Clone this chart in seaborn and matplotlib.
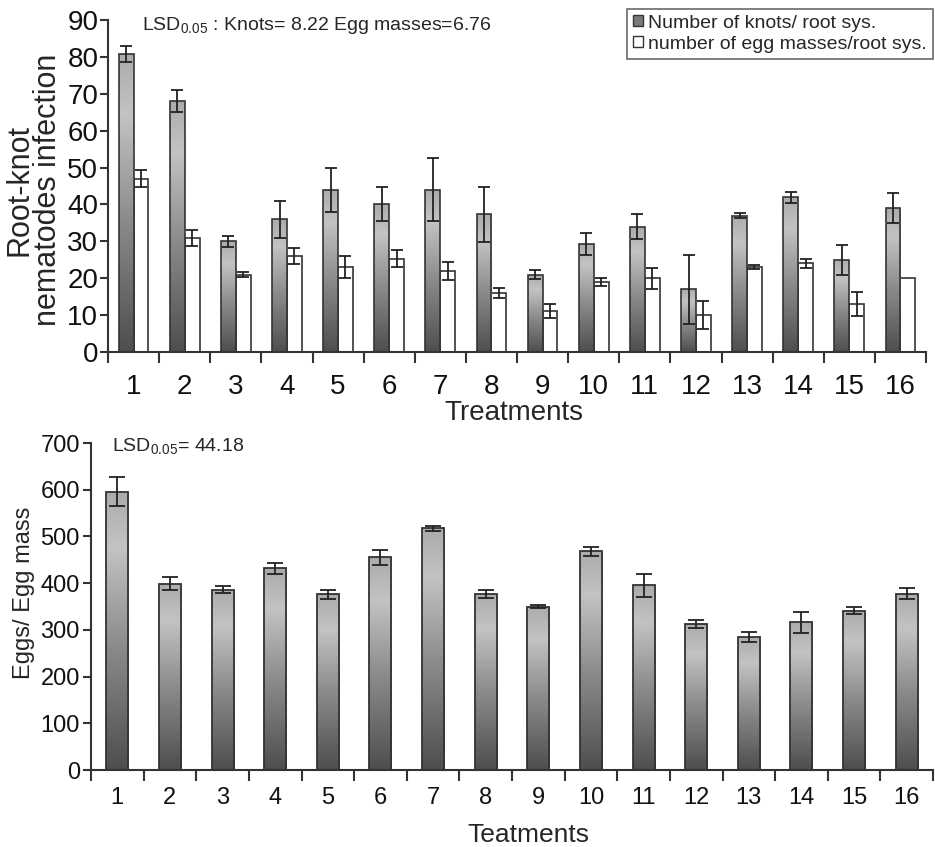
import numpy as np
import pandas as pd
import matplotlib
matplotlib.use("Agg")
import matplotlib.pyplot as plt
from matplotlib.colors import LinearSegmentedColormap
from matplotlib.patches import Patch
import seaborn as sns

# ---------------- data ----------------
treatments = [str(i) for i in range(1, 17)]
knots = [80.7, 68, 30, 36, 44, 40, 44, 37.3, 21, 29.3, 34, 17, 37, 42, 25, 39]
knots_err = [2.2, 3, 1.5, 5, 6, 4.6, 8.6, 7.5, 1.3, 3, 3.4, 9.4, 0.8, 1.5, 4.1, 4]
egg_masses = [47, 31, 21, 26, 23, 25.3, 22, 16, 11, 19, 20, 10, 23, 24, 13, 20]
egg_masses_err = [2.3, 2.2, 0.8, 2.2, 3, 2.3, 2.5, 1.3, 1.9, 1, 2.8, 3.7, 0.5, 1.2, 3.3, 0]
eggs_per_mass = [596, 399, 386, 432, 376, 455, 517, 377, 350, 468, 395, 312, 285, 316, 341, 377]
eggs_per_mass_err = [31, 14, 8, 12, 10, 16, 6, 8, 3, 9, 25, 9, 11, 23, 7, 12]
series_names = ["Number of knots/ root sys.", "number of egg masses/root sys."]
lsd_top = "LSD$_{\\mathregular{0.05}}$ : Knots= 8.22 Egg masses=6.76"
lsd_bottom = "LSD$_{\\mathregular{ 0.05}}$= 44.18"

# ---------------- style ----------------
sns.set_style("ticks")
plt.rcParams["font.family"] = ["Liberation Sans", "DejaVu Sans"]
plt.rcParams["mathtext.fontset"] = "custom"
plt.rcParams["mathtext.rm"] = "Liberation Sans"
plt.rcParams["axes.edgecolor"] = "#333333"
plt.rcParams["axes.linewidth"] = 1.5
plt.rcParams["xtick.color"] = "#333333"
plt.rcParams["ytick.color"] = "#333333"
plt.rcParams["xtick.labelcolor"] = "#111111"
plt.rcParams["ytick.labelcolor"] = "#111111"

W, H = 935, 847
fig = plt.figure(figsize=(W / 100, H / 100), dpi=100)
fig.patch.set_facecolor("white")

cmap = LinearSegmentedColormap.from_list(
    "grad", [(0, "#4e4e4e"), (0.45, "#8c8c8c"), (0.8, "#c3c3c3"), (1.0, "#ababab")])
grad = np.linspace(0, 1, 256).reshape(-1, 1)


def add_gradient(ax, bars):
    for b in bars:
        x0, w, h = b.get_x(), b.get_width(), b.get_height()
        im = ax.imshow(grad, extent=(x0, x0 + w, 0, h), origin="lower",
                       aspect="auto", cmap=cmap, zorder=1.5,
                       interpolation="bilinear")
        im.set_clip_path(b)
        b.set_facecolor("none")
        b.set_zorder(2)


def fig_axes(left, top, right, bottom):
    return fig.add_axes([left / W, 1 - bottom / H, (right - left) / W, (bottom - top) / H])


# ---------------- top panel ----------------
ax1 = fig_axes(108, 20, 926, 352)
df_top = pd.DataFrame({
    "Treatment": treatments * 2,
    "Series": [series_names[0]] * 16 + [series_names[1]] * 16,
    "Value": knots + egg_masses,
})
sns.barplot(data=df_top, x="Treatment", y="Value", hue="Series", order=treatments,
            hue_order=series_names, palette=["#888888", "white"], width=0.58,
            errorbar=None, edgecolor="#333333", linewidth=1.2, legend=False, ax=ax1)

cont_k, cont_e = ax1.containers[0], ax1.containers[1]
add_gradient(ax1, cont_k)
for bars, vals, errs in [(cont_k, knots, knots_err), (cont_e, egg_masses, egg_masses_err)]:
    xs = np.array([b.get_x() + b.get_width() / 2 for b in bars])
    v = np.array(vals)
    e = np.array(errs)
    m = e > 0
    ax1.errorbar(xs[m], v[m], yerr=e[m], fmt="none", ecolor="#222222",
                 elinewidth=1.3, capsize=4, capthick=1.3, zorder=5)

ax1.set_xlim(-0.5, 15.5)
ax1.set_ylim(0, 90)
ax1.set_yticks(np.arange(0, 91, 10))
ax1.set_xticks(np.arange(-0.5, 16, 1))
ax1.set_xticklabels([])
ax1.set_xticks(np.arange(16), minor=True)
ax1.set_xticklabels(treatments, minor=True)
ax1.tick_params(axis="x", which="major", length=8, width=1.5, direction="out")
ax1.tick_params(axis="x", which="minor", length=0, pad=16, labelsize=20)
ax1.tick_params(axis="y", length=6, width=1.5, pad=1, labelsize=20)
ax1.set_xlabel("")
ax1.set_ylabel("")
sns.despine(ax=ax1)
fig.text(514 / W, 1 - 413 / H, "Treatments", ha="center", va="center", fontsize=20)
fig.text(34 / W, 1 - 190 / H, "Root-knot\nnematodes infection", rotation=90,
         ha="center", va="center", fontsize=22, linespacing=0.95, multialignment="center")
fig.text(142 / W, 1 - 25 / H, lsd_top, ha="left", va="center", fontsize=14)

handles = [Patch(facecolor="#7a7a7a", edgecolor="#333333", linewidth=1.0),
           Patch(facecolor="white", edgecolor="#333333", linewidth=1.0)]
leg = ax1.legend(handles, series_names, loc="upper right",
                 bbox_to_anchor=(933 / W, 1 - 9 / H), bbox_transform=fig.transFigure,
                 fontsize=14, frameon=True, fancybox=False, borderaxespad=0,
                 handlelength=0.5, handleheight=0.5, handletextpad=0.3,
                 labelspacing=0.2, borderpad=0.3)
leg.get_frame().set_edgecolor("#444444")
leg.get_frame().set_linewidth(1.2)

# ---------------- bottom panel ----------------
ax2 = fig_axes(91, 443, 933, 770)
df_bot = pd.DataFrame({"Treatment": treatments, "Eggs": eggs_per_mass})
sns.barplot(data=df_bot, x="Treatment", y="Eggs", order=treatments, color="#888888",
            width=0.42, errorbar=None, edgecolor="#333333", linewidth=1.3, ax=ax2)
bars2 = ax2.containers[0]
add_gradient(ax2, bars2)
xs2 = [b.get_x() + b.get_width() / 2 for b in bars2]
ax2.errorbar(xs2, eggs_per_mass, yerr=eggs_per_mass_err, fmt="none", ecolor="#222222",
             elinewidth=1.3, capsize=6, capthick=1.3, zorder=5)
ax2.set_xlim(-0.5, 15.5)
ax2.set_ylim(0, 700)
ax2.set_yticks(np.arange(0, 701, 100))
ax2.set_xticks(np.arange(-0.5, 16, 1))
ax2.set_xticklabels([])
ax2.set_xticks(np.arange(16), minor=True)
ax2.set_xticklabels(treatments, minor=True)
ax2.tick_params(axis="x", which="major", length=8, width=1.5, direction="out")
ax2.tick_params(axis="x", which="minor", length=0, pad=12, labelsize=17)
ax2.tick_params(axis="y", length=6, width=1.5, pad=2, labelsize=17)
ax2.set_xlabel("")
ax2.set_ylabel("")
sns.despine(ax=ax2)
fig.text(528 / W, 1 - 835 / H, "Teatments", ha="center", va="center", fontsize=19)
fig.text(24 / W, 1 - 593 / H, "Eggs/ Egg mass", rotation=90, ha="center",
         va="center", fontsize=17)
fig.text(112 / W, 1 - 447 / H, lsd_bottom, ha="left", va="center", fontsize=14)

fig.savefig("out.png", dpi=100, facecolor="white")
